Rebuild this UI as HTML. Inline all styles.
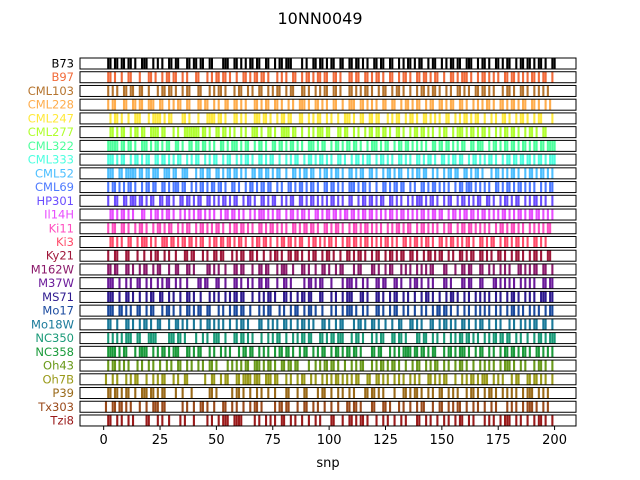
<!DOCTYPE html>
<html><head><meta charset="utf-8"><style>
body{margin:0;background:#fff;}
svg{display:block;font-family:"DejaVu Sans","Liberation Sans",sans-serif;}
</style></head><body>
<svg id="chart" width="640" height="480">
<text x="320" y="24" text-anchor="middle" font-size="16">10NN0049</text>
</svg>
<script>
const lines = ["B73","B97","CML103","CML228","CML247","CML277","CML322","CML333","CML52","CML69","HP301","Il14H","Ki11","Ki3","Ky21","M162W","M37W","MS71","Mo17","Mo18W","NC350","NC358","Oh43","Oh7B","P39","Tx303","Tzi8"];
const colors = ["#000000","#f26b3a","#b5742e","#ffad4d","#ffe93b","#b0ff2f","#4dff9c","#4dffe0","#4dbfff","#4d7aff","#6b4dff","#e84dff","#ff4dbf","#ff4d6b","#a0183a","#8b1a6b","#6b1a9a","#2e1a8f","#1a4a9f","#1a7a9a","#1a9a78","#1a9a3a","#6a9a1a","#9a9a1a","#9a6a1a","#9a4a1a","#9a1a1a"];
const ticks = [0,25,50,75,100,125,150,175,200];
const snps = [
"0011011011 0110100111 0010101001 1011000110 1101100110 0001110011 0101011011 0011001011 0111000010 1001101101 0110011001 1011010100 1101100110 0101011010 1100101100 1010110110 0111001011 0100110101 1001011011 0101101001 1",
"0011010010 0110001000 1101001011 0110010100 0110001010 1101101001 0011010110 1101000101 0100110010 1101011011 0011010001 1011001101 0110100110 0101101001 1011010110 0100110101 1101001011 0101010011 0110101010 1101011001 0",
"0010101001 1011001100 1000101101 1010010110 0011000101 0110100010 1100101001 1001010110 0101100011 0100101011 0011010001 1010101101 0010110010 1101001001 0110101101 0010100110 1010011011 0101000101 1010011010 0101010100 0",
"0010110001 1001101100 1110011001 0101100110 0011011001 0100110011 0101000110 1011001101 0010100111 0100110101 0011001001 1100110101 0100110011 0010110101 1001011001 1010110011 0100101010 1101001101 0110101100 1101001010 0",
"0001011010 0100111000 1011110101 1000011010 0010001111 0110100011 0101000111 0110100101 1011000110 0101011001 0100100111 0100110011 0110001010 1100101101 0011010101 0011001010 1101011001 0010100110 1001011010 0101100001 0",
"0001101011 0010110110 0111101100 0101001111 1110110100 1101101010 0101001110 1001101001 1110110010 0101011101 1000110110 0101001011 0110110100 1101001011 0110101001 0110010111 0101101011 0100101011 0110100101 1010011000 0",
"0011111011 0110100111 0101101011 0011010011 0110110101 0011010111 0101100101 1010011011 0101101010 0111010110 0101101011 0110100101 1101011001 0110110101 0101001101 1011010101 1001101110 0101101011 0110101101 0110110111 1",
"0011101011 0010110101 1001101101 0101100101 0110010101 1001011001 0101101001 1010110010 0101011001 0110101101 0100110100 1011010110 0101101010 0110101001 1010110100 1101011011 0010110101 0110100101 1011011011 0101101011 1",
"0011100110 1111101101 1011100111 0110011100 0101101100 1101011011 0101001101 1011010110 0100110101 1011001011 0101101001 1010110011 0100101101 0110010101 1011001010 0101101100 1101011010 0010110101 0110100101 1010110101 0",
"0010110101 0110100101 1011001101 0111011001 0101101011 0110100110 1001011010 1101100101 0011010110 1011010011 0110101001 1101011010 0100110101 1011001010 0110101101 0101001011 0111010101 0100110101 1010110101 0100101011 0",
"0010011001 1011101101 0110011011 0100110110 1011001101 0101101011 0010110100 1101011001 0101100110 1011010101 0110101001 1001011011 0101100110 1010010101 1101011010 0101100101 1010101100 1101001011 0101100101 0110101001 0",
"0001101011 0101000110 0101101011 0100101010 1011010101 0010110110 1010010101 1101010110 0101101011 0100110101 1011010110 1101011011 0101010110 1011010101 0110101101 1001011010 1101101011 0101010110 1010110101 1011010101 0",
"0010110011 0100101101 0010110101 1001010110 0101101010 1101001011 0110101001 1010110101 0100110101 1011010011 0101101001 0110101101 0101001010 1101011001 0110101010 0101100101 1011010101 0100101101 0110101001 0101010110 0",
"0001101010 0110010111 0101001110 1101011011 0101100101 1011011010 1101001011 0110100101 1011010110 0101101010 1101001011 0110101101 0101011010 1001101011 0101101001 1010110101 0110100110 1011001011 0101101010 0110101000 0",
"0010011000 1100010010 0101100101 0010001101 1000101001 1011000101 0110011010 0100101101 0011011010 0101100101 1010010011 0101101001 0110010110 1011001101 0010110101 1001010011 0101100110 1010011010 0101101001 0110100110 0",
"0011011000 1101001011 0010110001 0011000110 1000001101 0100100011 0110001001 1011000101 1100100011 0100100110 1001011000 0101100001 1010010110 0010101001 0101011000 0110001001 1011000110 0101001010 1000110101 0110011001 0",
"0011100100 1010011001 0100101011 0010100100 0011011000 1100100011 0100101001 1011000100 1101000001 0110101100 0100001011 1010010100 0110110001 1010001011 0100101000 0110100001 1011000110 0001101010 1010010101 0100011011 0",
"0011100100 1101001001 0110011001 0100100110 1001000101 0100101011 0110001001 0101101000 1101001011 0110001100 0101001011 1000110100 0110100101 1001010010 0101101001 0010110100 1010010101 0100101001 0110100101 0100111011 0",
"0011100110 1010011001 0110001011 0100100110 1011001100 0101001011 0110010001 0101100010 1001011001 0110100100 0101001011 1010010100 0110100101 1001010010 0101001011 0110100100 1010010101 0100101001 0110101001 0101001011 0",
"0011001000 1101001011 0100110001 0011010100 1001001101 0101001001 0110100001 1001010100 1101001011 0101000110 1001011000 0101101001 1010010010 0110001101 0100011001 0110101001 1010010110 0100101000 1010010101 0110011001 0",
"0010101010 1110011000 1111000001 1101101000 0100101001 1100100011 0110101000 1001010110 0100101011 0110001101 0110111000 1011010001 0101100011 0110100001 1011001010 0100101011 0110101001 0101101101 1001010010 0101101011 1",
"0011110101 1000101111 0010101101 0111000110 1011000101 0010101000 1011011001 0101001011 0110100101 1001010110 0101101011 0110100001 1011000101 0101111011 0110101100 0101101011 1010010110 0101001011 0110101101 0011010101 0",
"0010110101 0100010100 1010010010 1001100101 0010100110 1000010101 0101100111 0101101001 1011011000 0100101011 0110100100 1010110001 0101101011 0100100101 1001010110 0101001011 0100100101 0101001011 1010010100 0101101001 0",
"0100101000 1010110001 0010101100 0101001100 0000010011 0010110001 1011110111 0011101100 0101001011 0010100101 0101101010 1011000110 0110101001 0101001010 1000110101 0110001001 0101101011 1001010100 0101100011 0110101001 0",
"0011011010 1100100111 0110101100 0010010001 0000000110 1000000101 1010010010 1001001000 0110001001 1000010110 0100101001 0100001101 1010100001 0001101011 0100101001 1001010100 0101101001 0110100101 0101001011 1001010100 0",
"0100110110 1010001001 0011101100 0000010100 1001101001 0001100101 0010010110 1000001011 0110001001 1001010010 0100100011 0110100001 1000110100 0101001001 0110001001 1001010110 0100101001 0010100001 0101001011 1010010100 0",
"0011001010 0101000001 1000101001 0000101000 1000001010 0101110011 1100000101 0010101001 1001010010 0100101000 0110001001 1010110100 0100101001 0010100001 1001010010 0101001011 0010100001 0101001011 1001010010 0101101001 0"
];
const svg = document.getElementById('chart');
const NS = 'http://www.w3.org/2000/svg';
const axL = 80, axR = 576, xMin = -10.5, xMax = 209.5;
const xs = v => axL + (v - xMin) / (xMax - xMin) * (axR - axL);
const rowTop = i => 58 + i * 13.73, rowH = 11;
function mk(tag, attrs){const e=document.createElementNS(NS,tag);for(const k in attrs)e.setAttribute(k,attrs[k]);svg.appendChild(e);return e;}
lines.forEach((name,i)=>{
  const y = rowTop(i);
  const g = document.createElementNS(NS,'g');
  
  
  svg.appendChild(g);
  const bits = snps[i].replace(/\s/g,'');
  for(let k=0;k<bits.length;k++){
    if(bits[k]!=='1') continue;
    const r = document.createElementNS(NS,'rect');
    r.setAttribute('x', (xs(k)-1).toFixed(2));
    r.setAttribute('y', y);
    r.setAttribute('width', 2.1);
    r.setAttribute('height', rowH);
    r.setAttribute('fill', colors[i]);
    
    
    g.appendChild(r);
  }
  const b = document.createElementNS(NS,'rect');
  b.setAttribute('x', axL); b.setAttribute('y', y); b.setAttribute('width', axR-axL); b.setAttribute('height', rowH);
  b.setAttribute('fill','none'); b.setAttribute('stroke','#000'); b.setAttribute('stroke-width','1');
  
  
  g.appendChild(b);
  const t = document.createElementNS(NS,'text');
  t.setAttribute('x', 74); t.setAttribute('y', y + rowH/2 + 4);
  t.setAttribute('text-anchor','end'); t.setAttribute('font-size','11.5'); t.setAttribute('fill', colors[i]);
  
  
  t.textContent = name;
  g.appendChild(t);
});
const axisBottom = rowTop(lines.length-1) + rowH;
ticks.forEach(v=>{
  const x = xs(v);
  const l = mk('line',{x1:x,x2:x,y1:axisBottom,y2:axisBottom+4,stroke:'#000','stroke-width':1});
  
  
  const t = mk('text',{x:x,y:axisBottom+18,'text-anchor':'middle','font-size':'13'});
  
  
  t.textContent = v;
});
const xt = mk('text',{x:(axL+axR)/2,y:467,'text-anchor':'middle','font-size':'13'});


xt.textContent = 'snp';
</script>
</body></html>
